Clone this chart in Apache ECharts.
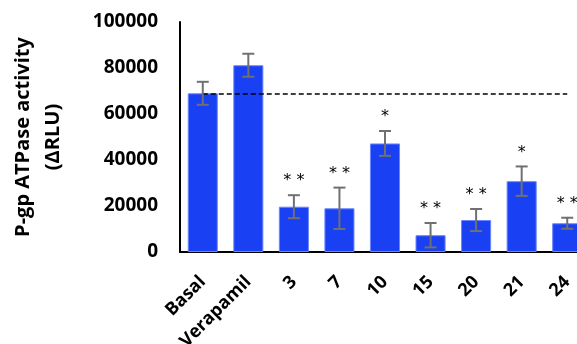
<!DOCTYPE html>
<html>
<head>
<meta charset="utf-8">
<script src="https://cdn.jsdelivr.net/npm/echarts@6/dist/echarts.min.js"></script>
<style>html,body{margin:0;padding:0;background:#fff;}#c{width:577px;height:344px;}</style>
</head>
<body>
<div id="c"></div>
<script>
var categories = ['Basal', 'Verapamil', '3', '7', '10', '15', '20', '21', '24'];
var values = [69000, 81200, 19700, 19000, 47200, 7300, 13900, 30800, 12500];
var errors = [5000, 5000, 5000, 9000, 5400, 5300, 4800, 6400, 2400];
var stars = ['', '', '**', '**', '*', '**', '**', '*', '**'];
var yTicks = [0, 20000, 40000, 60000, 80000, 100000];
var basalLine = 69000;

var font = 'Open Sans';
var chart = echarts.init(document.getElementById('c'), null, {renderer: 'canvas'});

var errData = values.map(function (v, i) { return [i, v - errors[i], v + errors[i], stars[i]]; });

chart.setOption({
  animation: false,
  grid: {left: 180, top: 22, width: 410, height: 230, containLabel: false, outerBoundsMode: 'none'},
  xAxis: {
    type: 'category',
    data: categories,
    axisLine: {lineStyle: {color: '#000', width: 2}},
    axisTick: {show: false},
    axisLabel: {rotate: 45, margin: 27, color: '#000', fontWeight: 'bold', fontSize: 18, fontFamily: font, interval: 0}
  },
  yAxis: {
    type: 'value',
    min: yTicks[0], max: yTicks[yTicks.length - 1], interval: 20000,
    splitLine: {show: false},
    axisLine: {show: true, lineStyle: {color: '#000', width: 2}},
    axisTick: {show: false},
    axisLabel: {margin: 22, color: '#000', fontWeight: 'bold', fontSize: 19, fontFamily: font, formatter: function (v) { return String(v); }},
    name: 'P-gp ATPase activity\n(ΔRLU)',
    nameLocation: 'middle',
    nameGap: 112,
    nameTextStyle: {color: '#000', fontWeight: 'bold', fontSize: 20, fontFamily: font, lineHeight: 30}
  },
  series: [
    {
      type: 'bar',
      data: values,
      barCategoryGap: '34%',
      itemStyle: {color: '#1a40f4', borderColor: '#6a86ff', borderWidth: 1},
      markLine: {
        symbol: 'none',
        silent: true,
        label: {show: false},
        lineStyle: {color: '#000', type: [5, 3], width: 1.5},
        data: [[{coord: [0, basalLine]}, {coord: [8, basalLine]}]]
      }
    },
    {
      type: 'custom',
      data: errData,
      z: 10,
      renderItem: function (params, api) {
        var x = api.coord([api.value(0), api.value(1)])[0];
        var lo = api.coord([api.value(0), api.value(1)])[1];
        var hi = api.coord([api.value(0), api.value(2)])[1];
        var hw = 6;
        var st = {stroke: '#707070', lineWidth: 2};
        var children = [
          {type: 'line', shape: {x1: x, y1: lo, x2: x, y2: hi}, style: st},
          {type: 'line', shape: {x1: x - hw, y1: lo, x2: x + hw, y2: lo}, style: st},
          {type: 'line', shape: {x1: x - hw, y1: hi, x2: x + hw, y2: hi}, style: st}
        ];
        var s = errData[params.dataIndex][3];
        if (s) {
          children.push({type: 'text', style: {text: s.split('').join(' '), x: x, y: hi - 14, align: 'center', verticalAlign: 'middle', fill: '#000', font: '16px "DejaVu Sans"'}});
        }
        return {type: 'group', children: children};
      }
    }
  ]
});
</script>
</body>
</html>
